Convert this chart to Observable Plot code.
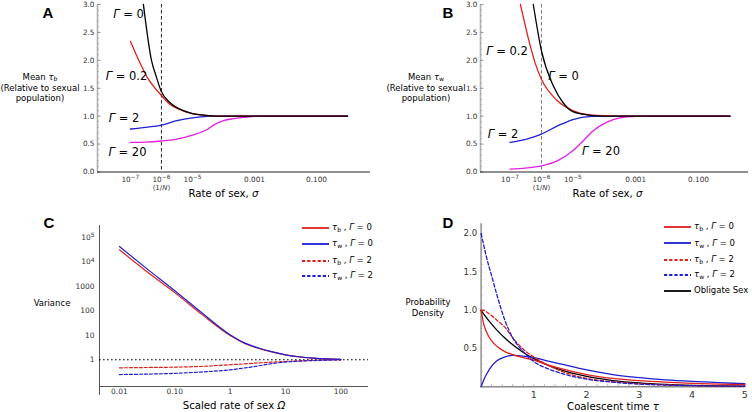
<!DOCTYPE html>
<html><head><meta charset="utf-8">
<script src="https://cdn.jsdelivr.net/npm/d3@7"></script>
<script src="https://cdn.jsdelivr.net/npm/@observablehq/plot@0.6"></script>
<style>
body{margin:0;background:#fff;}
#fig{position:relative;width:752px;height:412px;font-family:"DejaVu Sans",sans-serif;overflow:hidden;background:#fff;}
.pnl{position:absolute;}
.t{position:absolute;white-space:nowrap;color:#000;transform:translate(-50%,-50%);line-height:1;}
.ylab{position:absolute;text-align:center;font-size:8.5px;line-height:10.7px;transform:translate(-50%,-50%);white-space:nowrap;}
.letter{font-weight:bold;font-size:15px;font-family:"Liberation Sans",Arial,sans-serif;}
.gam{font-size:11.5px;}
.ax{font-size:10.2px;}
sub{font-size:0.72em;vertical-align:-0.25em;line-height:0;}
.leg{position:absolute;font-size:8.5px;white-space:nowrap;}
.leg div{height:0;position:absolute;left:0;}
.leg svg{position:absolute;left:0;top:-3px;}
.leg span{position:absolute;left:30px;top:-5.5px;}
</style></head><body><div id="fig"></div><script>
// ---------------- Panel A: mean tau_b ----------------
const sigA_g0 = [2.63e-7, 4.79e-7, 6.92e-7, 9.77e-7, 1.82e-6, 3.8e-6, 8.91e-6, 2.69e-5, 1.2e-4, 1];
const meanA_g0 = [3.0, 2.0, 1.70, 1.45, 1.25, 1.13, 1.055, 1.015, 1.0, 1.0];
const sigA_g02 = [1e-7, 1.86e-7, 3.47e-7, 1e-6, 1.82e-6, 3.8e-6, 8.91e-6, 2.69e-5, 1.2e-4, 1];
const meanA_g02 = [2.34, 2.0, 1.70, 1.37, 1.22, 1.12, 1.05, 1.015, 1.0, 1.0];
const sigA_g2 = [1e-7, 3.16e-7, 1e-6, 3.16e-6, 1e-5, 3.16e-5, 1e-4, 1];
const meanA_g2 = [0.77, 0.80, 0.84, 0.92, 0.97, 0.995, 1.0, 1.0];
const sigA_g20 = [1e-7, 3.16e-7, 1e-6, 3.16e-6, 1e-5, 3.16e-5, 4.79e-5, 1e-4, 2.09e-4, 5e-4, 1e-3, 3.16e-3, 1];
const meanA_g20 = [0.53, 0.535, 0.555, 0.59, 0.66, 0.77, 0.84, 0.92, 0.955, 0.98, 0.995, 1.0, 1.0];
// ---------------- Panel B: mean tau_w ----------------
const sigB_g0 = [5.5e-7, 1e-6, 2.4e-6, 4.9e-6, 1e-5, 3.16e-5, 1e-4, 1];
const meanB_g0 = [3.0, 2.17, 1.54, 1.24, 1.08, 1.02, 1.0, 1.0];
const sigB_g02 = [2.14e-7, 4.27e-7, 6.31e-7, 1e-6, 3.02e-6, 1e-5, 3.98e-5, 3.16e-4, 1];
const meanB_g02 = [3.0, 2.29, 1.95, 1.66, 1.29, 1.10, 1.02, 1.0, 1.0];
const sigB_g2 = [1e-7, 3.39e-7, 1e-6, 3.39e-6, 1e-5, 3.98e-5, 1e-4, 1];
const meanB_g2 = [0.53, 0.59, 0.68, 0.83, 0.94, 0.995, 1.0, 1.0];
const sigB_g20 = [1e-7, 3.16e-7, 1e-6, 3.16e-6, 1e-5, 2.14e-5, 4.47e-5, 1.17e-4, 3.16e-4, 1e-3, 3.16e-3, 1];
const meanB_g20 = [0.05, 0.07, 0.11, 0.20, 0.38, 0.56, 0.74, 0.89, 0.97, 0.995, 1.0, 1.0];
const popSize = 1e-6; // 1/N
const sigmaTicks = [1e-7, 1e-6, 1e-5, 1e-3, 1e-1];
const sigmaTickLabels = ["10^−7", "10^−6", "10^−5", "0.001", "0.100"];
const meanTicks = [0, 0.5, 1, 1.5, 2, 2.5, 3];
const meanMinor = d3.range(0, 3.001, 0.1);
// ---------------- Panel C: variance ----------------
const omega = [0.01, 0.0316, 0.1, 0.316, 1, 1.78, 3.16, 5.62, 10, 17.8, 31.6, 56.2, 100];
const varTb_g0 = [30900, 3890, 550, 68, 9.8, 4.8, 3.0, 2.1, 1.58, 1.32, 1.17, 1.08, 1.03];
const varTw_g0 = [41700, 5130, 660, 79, 10.5, 5.0, 3.1, 2.14, 1.6, 1.33, 1.17, 1.08, 1.03];
const varTb_g2 = [0.47, 0.485, 0.50, 0.54, 0.63, 0.68, 0.74, 0.80, 0.85, 0.91, 0.95, 0.98, 1.0];
const varTw_g2 = [0.25, 0.26, 0.28, 0.32, 0.39, 0.46, 0.56, 0.69, 0.81, 0.88, 0.93, 0.97, 1.0];
const omegaTicks = [0.01, 0.1, 1, 10, 100];
const omegaTickLabels = ["0.01", "0.10", "1", "10", "100"];
const varTicks = [1, 10, 100, 1000, 1e4, 1e5];
const varTickLabels = ["1", "10", "100", "1000", "10^4", "10^5"];
// ---------------- Panel D: densities ----------------
const tau = [0, 0.05, 0.1, 0.2, 0.3, 0.45, 0.6, 0.8, 1, 1.25, 1.5, 2, 2.5, 3, 3.5, 4, 4.5, 5];
const dObligate = [1, 0.951, 0.905, 0.819, 0.741, 0.638, 0.549, 0.449, 0.368, 0.287, 0.223, 0.135, 0.082, 0.050, 0.030, 0.018, 0.011, 0.007];
const dTb_g0 = [1.0, 0.82, 0.72, 0.60, 0.53, 0.46, 0.42, 0.38, 0.35, 0.29, 0.24, 0.16, 0.11, 0.08, 0.06, 0.045, 0.035, 0.028];
const dTw_g0 = [0, 0.09, 0.16, 0.27, 0.34, 0.39, 0.41, 0.40, 0.38, 0.34, 0.30, 0.22, 0.16, 0.12, 0.09, 0.07, 0.055, 0.04];
const dTb_g2 = [1.0, 1.0, 0.98, 0.93, 0.87, 0.78, 0.64, 0.49, 0.39, 0.29, 0.21, 0.11, 0.065, 0.04, 0.025, 0.015, 0.01, 0.006];
const dTw_g2 = [2.0, 1.85, 1.7, 1.45, 1.2, 0.87, 0.64, 0.46, 0.33, 0.24, 0.18, 0.10, 0.06, 0.035, 0.022, 0.015, 0.01, 0.007];
const tauTicks = [1, 2, 3, 4, 5];
const densTicks = [0.5, 1, 1.5, 2];

const RED = "#e0201e", BLUE = "#1e1ed2", MAG = "#e41ee4", BLK = "#000";
const fig = document.getElementById("fig");
const pts = (xs, ys) => xs.map((x, i) => ({x, y: ys[i]}));
const lab = (ticks, labels) => { const m = new Map(ticks.map((t, i) => [t, labels[i]])); return d => m.get(d); };

function fix(svg) {
  svg.querySelectorAll("text").forEach(t => {
    const s = t.textContent;
    const m = s.match(/^10\^(.+)$/);
    if (m) t.innerHTML = `10<tspan dy="-0.42em" font-size="0.8em">${m[1]}</tspan>`;
    if (s === "(1/N)") t.innerHTML = `(1/<tspan font-style="italic">N</tspan>)`;
  });
}
function place(el, x, y) { el.classList.add("pnl"); el.style.left = x + "px"; el.style.top = y + "px"; fix(el); fig.appendChild(el); }
function txt(html, x, y, cls) { const d = document.createElement("div"); d.className = "t " + (cls || ""); d.innerHTML = html; d.style.left = x + "px"; d.style.top = y + "px"; fig.appendChild(d); }
function ylab(html, x, y) { const d = document.createElement("div"); d.className = "ylab"; d.innerHTML = html; d.style.left = x + "px"; d.style.top = y + "px"; fig.appendChild(d); }
function legend(items, x, y, dy) {
  const box = document.createElement("div"); box.className = "leg"; box.style.left = x + "px"; box.style.top = y + "px";
  let off = 0;
  items.forEach((it, i) => {
    const r = document.createElement("div"); r.style.top = off + "px"; off += dy[i];
    r.innerHTML = `<svg width="27" height="6"><line x1="0" x2="27" y1="3" y2="3" stroke="${it.c}" stroke-width="1.8" ${it.d ? 'stroke-dasharray="3.2,2"' : ''}/></svg><span>${it.t}</span>`;
    box.appendChild(r);
  });
  fig.appendChild(box);
}

function meanPanel(domainX, mL, mR, series, dashColor) {
  return Plot.plot({
    width: 376, height: 200, marginLeft: mL, marginRight: mR, marginTop: 4, marginBottom: 28.5,
    style: {fontFamily: "DejaVu Sans", fontSize: "7.3px", background: "transparent", overflow: "visible"},
    x: {type: "log", domain: domainX},
    y: {domain: [0, 3]},
    marks: [
      Plot.ruleX([domainX[0]], {stroke: "#b0b0b0", strokeWidth: 1.6}),
      Plot.axisY({ticks: meanMinor, tickSize: -2, text: null, label: null, stroke: "#aaa"}),
      Plot.axisY({ticks: meanTicks, tickSize: -3.5, text: null, label: null, stroke: "#999"}),
      Plot.axisY({ticks: meanTicks, tickSize: 0, tickPadding: 3, tickFormat: d3.format(".1f"), label: null, fill: "#333"}),
      Plot.ruleY([0], {stroke: "#222", strokeWidth: 1}),
      Plot.axisX({ticks: sigmaTicks, tickSize: 0, tickPadding: 4.5, tickFormat: lab(sigmaTicks, sigmaTickLabels), label: null, fill: "#333"}),
      Plot.text([popSize], {x: d => d, frameAnchor: "bottom", dy: 18, text: () => "(1/N)", fill: "#333", fontSize: 7}),
      Plot.ruleX([popSize], {stroke: dashColor, strokeDasharray: "3.5,2.5", strokeWidth: 1}),
      ...series.map(s => Plot.line(pts(s[0], s[1]), {x: "x", y: "y", stroke: s[2], strokeWidth: 1.3, curve: "monotone-x"}))
    ]
  });
}

// Panel A
place(meanPanel([10 ** -8.06, 10 ** 0.74], 97, 6, [
  [sigA_g20, meanA_g20, MAG], [sigA_g2, meanA_g2, BLUE], [sigA_g02, meanA_g02, RED], [sigA_g0, meanA_g0, BLK]
], "#222"), 0, 0);
// Panel B
place(meanPanel([10 ** -7.94, 10 ** 0.59], 104, 4, [
  [sigB_g20, meanB_g20, MAG], [sigB_g2, meanB_g2, BLUE], [sigB_g02, meanB_g02, RED], [sigB_g0, meanB_g0, BLK]
], "#777"), 376, 0);

// Panel C
const cx = [10 ** -2.36, 10 ** 2.5], cy = [10 ** -1.09, 10 ** 5.48];
place(Plot.plot({
  width: 376, height: 212, marginLeft: 99, marginRight: 8, marginTop: 25, marginBottom: 26,
  style: {fontFamily: "DejaVu Sans", fontSize: "7.5px", background: "transparent", overflow: "visible"},
  x: {type: "log", domain: cx}, y: {type: "log", domain: cy},
  marks: [
    Plot.ruleX([cx[0]], {stroke: "#555", strokeWidth: 1, insetBottom: -9}),
    Plot.ruleY([cy[0]], {stroke: "#555", strokeWidth: 1}),
    Plot.axisY({ticks: varTicks, tickSize: 0, tickPadding: 5, tickFormat: lab(varTicks, varTickLabels), label: null, fill: "#333"}),
    Plot.axisX({ticks: omegaTicks, tickSize: 0, tickPadding: 2.5, tickFormat: lab(omegaTicks, omegaTickLabels), label: null, fill: "#333"}),
    Plot.ruleY([1], {stroke: "#000", strokeDasharray: "1.6,2.4", strokeWidth: 1.1}),
    Plot.line(pts(omega, varTb_g2), {x: "x", y: "y", stroke: RED, strokeWidth: 1.2, strokeDasharray: "3,2", curve: "monotone-x"}),
    Plot.line(pts(omega, varTw_g2), {x: "x", y: "y", stroke: BLUE, strokeWidth: 1.2, strokeDasharray: "3,2", curve: "monotone-x"}),
    Plot.line(pts(omega, varTb_g0), {x: "x", y: "y", stroke: RED, strokeWidth: 1.2, curve: "monotone-x"}),
    Plot.line(pts(omega, varTw_g0), {x: "x", y: "y", stroke: BLUE, strokeWidth: 1.2, curve: "monotone-x"})
  ]
}), 0, 200);

// Panel D
const dx = [0, 5], dy = [0, 2.13];
place(Plot.plot({
  width: 376, height: 212, marginLeft: 104.6, marginRight: 7.7, marginTop: 23.3, marginBottom: 25.7,
  style: {fontFamily: "DejaVu Sans", fontSize: "8.5px", background: "transparent", overflow: "visible"},
  x: {domain: dx}, y: {domain: dy},
  marks: [
    Plot.ruleX([dx[0]], {stroke: "#888", strokeWidth: 1.4}),
    Plot.ruleY([dy[0]], {stroke: "#888", strokeWidth: 1.4}),
    Plot.axisY({ticks: d3.range(0.1, 2.101, 0.1), tickSize: -2, text: null, label: null, stroke: "#aaa"}),
    Plot.axisX({ticks: d3.range(0.2, 5.01, 0.2), tickSize: -2, text: null, label: null, stroke: "#aaa"}),
    Plot.axisY({ticks: densTicks, tickSize: 0, tickPadding: 4, tickFormat: d3.format(".1f"), label: null, fill: "#333"}),
    Plot.axisX({ticks: tauTicks, tickSize: 0, tickPadding: 4, tickFormat: d3.format("d"), label: null, fill: "#333", fontSize: 9.5}),
    Plot.line(pts(tau, dObligate), {x: "x", y: "y", stroke: BLK, strokeWidth: 1.3, curve: "monotone-x"}),
    Plot.line(pts(tau, dTw_g0), {x: "x", y: "y", stroke: BLUE, strokeWidth: 1.3, curve: "monotone-x"}),
    Plot.line(pts(tau, dTb_g0), {x: "x", y: "y", stroke: RED, strokeWidth: 1.3, curve: "monotone-x"}),
    Plot.line(pts(tau, dTb_g2), {x: "x", y: "y", stroke: RED, strokeWidth: 1.3, strokeDasharray: "3.5,2.2", curve: "monotone-x"}),
    Plot.line(pts(tau, dTw_g2), {x: "x", y: "y", stroke: BLUE, strokeWidth: 1.3, strokeDasharray: "3.5,2.2", curve: "monotone-x"})
  ]
}), 376, 200);

// ---------- Text overlays ----------
txt("A", 48, 12, "letter"); txt("B", 448, 12, "letter"); txt("C", 49, 222, "letter"); txt("D", 448, 222, "letter");
ylab("Mean <i>τ</i><sub>b</sub><br>(Relative to sexual<br>population)", 40, 88);
ylab("Mean <i>τ</i><sub>w</sub><br>(Relative to sexual<br>population)", 426, 88);
ylab("Variance", 52, 303);
ylab("Probability<br>Density", 428, 308);
txt("Rate of sex, <i>σ</i>", 223.5, 193.5, "ax");
txt("Rate of sex, <i>σ</i>", 607.5, 193.5, "ax");
txt("Scaled rate of sex <i>Ω</i>", 234, 405.5, "ax");
txt("Coalescent time <i>τ</i>", 613, 406.5, "ax");
txt("<i>Γ</i> = 0", 128.5, 15, "gam");
txt("<i>Γ</i> = 0.2", 126.5, 77, "gam");
txt("<i>Γ</i> = 2", 124, 119, "gam");
txt("<i>Γ</i> = 20", 127.5, 153, "gam");
txt("<i>Γ</i> = 0.2", 507, 52, "gam");
txt("<i>Γ</i> = 0", 563.5, 77, "gam");
txt("<i>Γ</i> = 2", 503, 135, "gam");
txt("<i>Γ</i> = 20", 601, 152, "gam");
const legC = [
  {c: RED, d: false, t: "<i>τ</i><sub>b</sub> , <i>Γ</i> = 0"},
  {c: BLUE, d: false, t: "<i>τ</i><sub>w</sub> , <i>Γ</i> = 0"},
  {c: RED, d: true, t: "<i>τ</i><sub>b</sub> , <i>Γ</i> = 2"},
  {c: BLUE, d: true, t: "<i>τ</i><sub>w</sub> , <i>Γ</i> = 2"}
];
legend(legC, 302, 227.7, [16.3, 16.7, 15.3, 16]);
legend([...legC, {c: BLK, d: false, t: "Obligate Sex"}], 664, 226.7, [16.6, 16.7, 15, 15.7, 16]);
</script></body></html>
